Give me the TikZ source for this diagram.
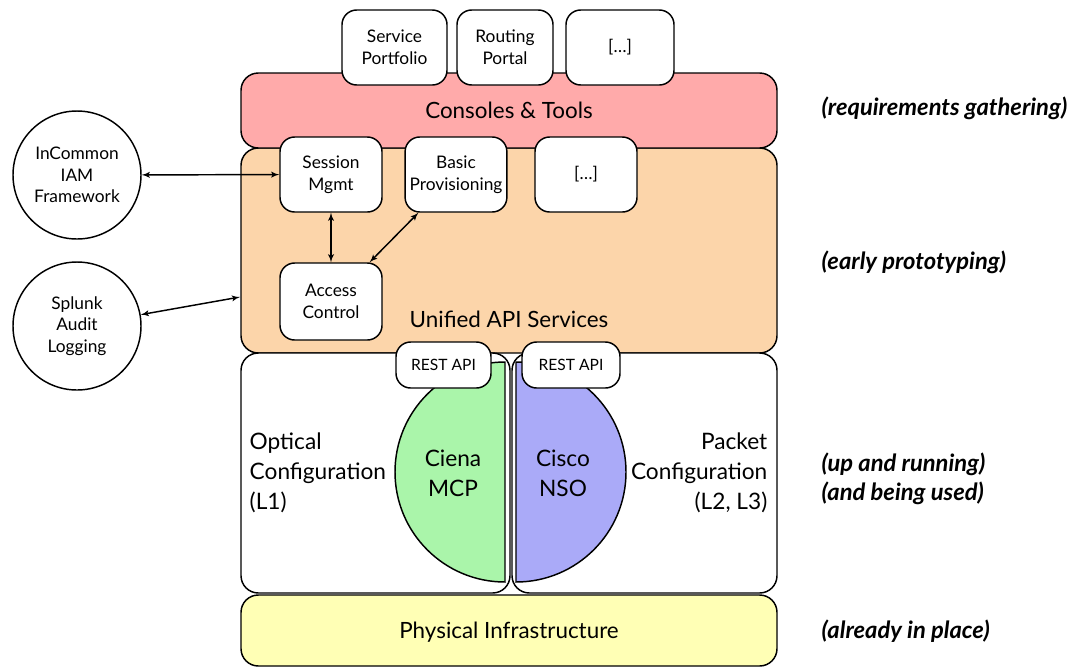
\documentclass[tikz,border=0pt]{standalone}
\usepackage{fontspec}
\setmainfont{Lato}
\usepackage{tikz}
\usetikzlibrary{arrows}
\definecolor{consolepink}{HTML}{FFAAAA}
\definecolor{apiorange}{HTML}{FCD5AA}
\definecolor{physyellow}{HTML}{FFFFB5}
\definecolor{cienagreen}{HTML}{AAF5AA}
\definecolor{ciscoblue}{HTML}{AAAAF8}
\tikzset{
	layer/.style={draw, line width=1.1pt, rounded corners=13pt, minimum width=402pt},
	tool/.style={draw, fill=white, line width=1.1pt, rounded corners=11pt, align=center,
		font=\fontsize{13}{16.5}\selectfont},
	outside/.style={draw, circle, line width=1.1pt, minimum size=96pt, inner sep=0pt, align=center,
		font=\fontsize{13}{16}\selectfont},
	biglabel/.style={font=\fontsize{16.8}{19}\selectfont},
	conflabel/.style={font=\fontsize{17}{22.5}\selectfont},
	stage/.style={anchor=west, font=\fontsize{17.8}{22}\selectfont\bfseries\itshape},
	link/.style={<->, >=latex', line width=1.1pt},
}

\begin{document}
\begin{tikzpicture}[x=0.75pt,y=-0.75pt]
	\useasboundingbox (0,0) rectangle (1073,668);
	% layers
	\node[layer, fill=apiorange, minimum height=153.75pt] (api) at (509,250.5) {};
	\node[layer, fill=consolepink, minimum height=56.25pt] (consoles) at (509,110.5) {};
	\node[layer, fill=white, minimum width=201.75pt, minimum height=180pt] (optical) at (375.5,473) {};
	\node[layer, fill=white, minimum width=198.75pt, minimum height=180pt] (packet) at (644.5,473) {};
	\node[layer, fill=physyellow, minimum height=53.25pt] (phys) at (509,630.5) {};
	\node[biglabel] (consolestxt) at (509,110) {Consoles \& Tools};
	\node[biglabel] (apitxt) at (509,319) {Unified API Services};
	\node[biglabel] (phystxt) at (509,632) {Physical Infrastructure};
	% tools on top
	\node[tool, minimum width=78.75pt, minimum height=56.25pt] (portfolio) at (394.5,47.5) {Service\\Portfolio};
	\node[tool, minimum width=72pt, minimum height=56.25pt] (routing) at (505,47.5) {Routing\\Portal};
	\node[tool, minimum width=81pt, minimum height=56.25pt] (moretools) at (620,47.5) {[…]};
	% services
	\node[tool, minimum width=76.5pt, minimum height=56.25pt] (session) at (331,174.5) {Session\\Mgmt};
	\node[tool, minimum width=73.5pt, minimum height=56.25pt] (prov) at (456,174.5) {Basic\\Provisioning};
	\node[tool, minimum width=76.5pt, minimum height=56.25pt] (moresvc) at (586,174.5) {[…]};
	\node[tool, minimum width=76.5pt, minimum height=57.75pt] (access) at (331,301.5) {Access\\Control};
	% external
	\node[outside] (incommon) at (77,175) {InCommon\\IAM\\Framework};
	\node[outside] (splunk) at (77,326) {Splunk\\Audit\\Logging};
	\coordinate (apiedge) at (240,297);
	\draw[link] (incommon) -- (session);
	\draw[link] (splunk) -- (apiedge);
	\draw[link] (session) -- (access);
	\draw[link] (prov) -- (access);
	% controllers
	\draw[line width=1.1pt, fill=cienagreen] (505,362) arc[start angle=90, end angle=270, radius=82.5pt] -- cycle;
	\draw[line width=1.1pt, fill=ciscoblue] (516,362) arc[start angle=90, end angle=-90, radius=82.5pt] -- cycle;
	\node[tool, minimum width=71.25pt, minimum height=34.5pt, font=\fontsize{11.7}{13}\selectfont] (restl) at (443.5,365) {REST API};
	\node[tool, minimum width=73.5pt, minimum height=34.5pt, font=\fontsize{11.7}{13}\selectfont] (restr) at (571,365) {REST API};
	\node[conflabel, align=center] (ciena) at (453,473) {Ciena\\MCP};
	\node[conflabel, align=center] (cisco) at (563,473) {Cisco\\NSO};
	\node[conflabel, align=left, anchor=west] (opticaltxt) at (245,473) {Optical\\Configuration\\(L1)};
	\node[conflabel, align=right, anchor=east] (packettxt) at (772,473) {Packet\\Configuration\\(L2, L3)};
	% stages
	\node[stage] (req) at (817,108) {(requirements gathering)};
	\node[stage] (proto) at (817,262) {(early prototyping)};
	\node[stage, align=left] (running) at (817,479) {(up and running)\\(and being used)};
	\node[stage] (place) at (817,631) {(already in place)};
\end{tikzpicture}
\end{document}
